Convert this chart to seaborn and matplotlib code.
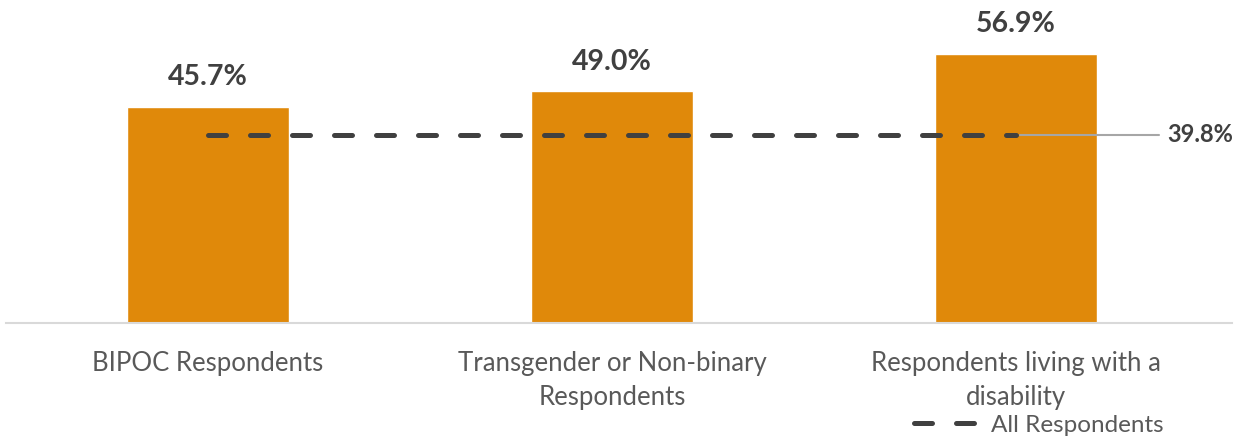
import matplotlib
matplotlib.use("Agg")
import matplotlib.pyplot as plt
import seaborn as sns
import pandas as pd

# data
categories = ["BIPOC Respondents", "Transgender or Non-binary\nRespondents", "Respondents living with a\ndisability"]
values = [45.7, 49.0, 56.9]
all_respondents = 39.8
all_label = "All Respondents"

BAR_COLOR = "#E0890A"
DARK = "#404040"
GREY_TEXT = "#595959"

sns.set_theme(style="white")
plt.rcParams['font.family'] = ['Lato', 'DejaVu Sans']

df = pd.DataFrame({"group": categories, "pct": values})

fig = plt.figure(figsize=(12.44, 4.38), dpi=100)
ax = fig.add_axes([6 / 1244, 1 - 323 / 438, (1232 - 6) / 1244, 323 / 438])

sns.barplot(data=df, x="group", y="pct", color=BAR_COLOR, width=0.4, saturation=1, ax=ax)

# value labels above bars
for i, v in enumerate(values):
    ax.annotate(f"{v:.1f}%", (i, v), xytext=(0, 12), textcoords="offset points",
                ha="center", va="bottom", fontsize=20.5, fontweight="bold", color=DARK)

# all respondents reference line
line, = ax.plot([0, 2], [all_respondents, all_respondents], color=DARK, lw=3.6,
                dashes=(3.6, 4.8), dash_capstyle="round", label=all_label)
ax.plot([2.01, 2.355], [all_respondents, all_respondents], color="#A6A6A6", lw=1.5)
ax.text(2.375, all_respondents, f"{all_respondents:.1f}%", ha="left", va="center",
        fontsize=17, fontweight="bold", color=DARK)

ax.set_xlim(-0.5, 2.535)
ax.set_ylim(0, 68.3)
ax.set_xlabel("")
ax.set_ylabel("")
ax.set_yticks([])
for s in ["top", "right", "left"]:
    ax.spines[s].set_visible(False)
ax.spines["bottom"].set_color("#D9D9D9")
ax.spines["bottom"].set_linewidth(1.5)
ax.tick_params(axis="x", length=0, pad=20, labelsize=18.5, labelcolor=GREY_TEXT)
plt.setp(ax.get_xticklabels(), linespacing=1.45)

ax.legend(handles=[line], loc="center", bbox_to_anchor=(1039 / 1244, 1 - 425 / 438),
          bbox_transform=fig.transFigure, frameon=False, fontsize=17.5,
          handlelength=2.6, handletextpad=0.55, labelcolor=GREY_TEXT,
          borderpad=0, borderaxespad=0)

fig.savefig("out.png", dpi=100)
